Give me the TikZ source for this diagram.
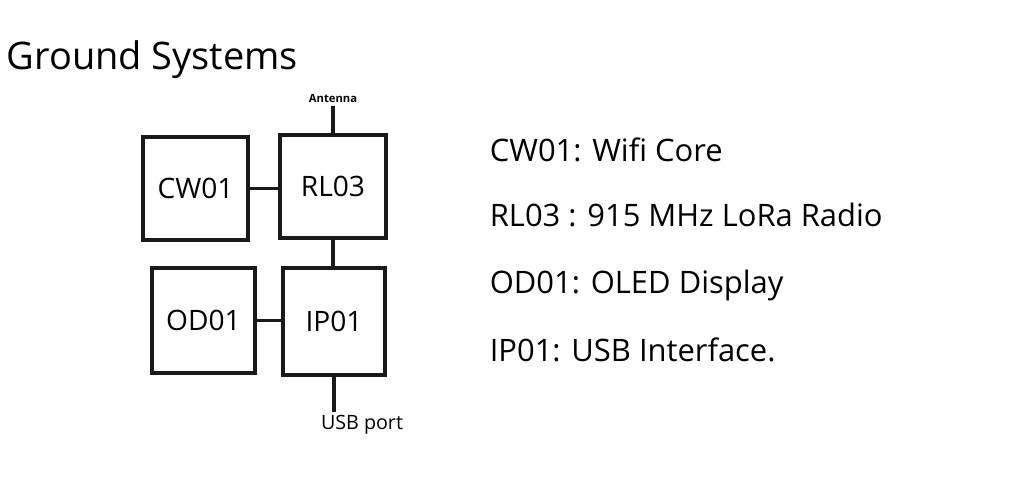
\documentclass[tikz,border=0pt]{standalone}
\usepackage{fontspec}
\setmainfont{Open Sans}
\usetikzlibrary{positioning}

\begin{document}
\begin{tikzpicture}[
            x=0.025cm,
            y=-0.025cm,
            line width=2.6pt,
            unit/.style={draw=black!90, line width=2.6pt, inner sep=0pt, font=\fontsize{20}{24}\selectfont},
            wire/.style={draw=black!90, line width=2.6pt},
            port/.style={inner sep=1pt},
            legend/.style={anchor=west, inner sep=0pt, font=\fontsize{22}{26}\selectfont},
        ]
        \useasboundingbox[fill=white] (0,0) rectangle (1032,483);
        % title
        \node[anchor=west, inner sep=0pt, font=\fontsize{27}{31}\selectfont] (title) at (5,60) {Ground Systems};
        % units
        \node[unit, minimum width=2.625cm, minimum height=2.575cm] (cw) at (195.5,188.5) {CW01};
        \node[unit, minimum width=2.65cm, minimum height=2.575cm] (rl) at (333,186.5) {RL03};
        \node[unit, minimum width=2.575cm, minimum height=2.625cm] (od) at (203.5,320.5) {OD01};
        \node[unit, minimum width=2.55cm, minimum height=2.675cm] (ip) at (334,321.5) {IP01};
        % external ports
        \node[port, font=\fontsize{8}{10}\selectfont\bfseries] (antenna) at (333,99) {Antenna};
        \node[port, font=\fontsize{14}{16}\selectfont] (usb) at (362,425) {USB port};
        % links
        \draw[wire] (cw.east) -- (cw.east -| rl.west);
        \draw[wire] (rl.south) -- (rl.south |- ip.north);
        \draw[wire] (od.east) -- (od.east -| ip.west);
        \draw[wire] (rl.north) -- (rl.north |- antenna.south);
        \draw[wire] (ip.south) -- (ip.south |- usb.north);
        % legend
        \foreach \n/\y/\txt in {cw/150/{CW01: Wifi Core}, rl/215/{RL03 : 915 MHz LoRa Radio},
                od/285/{OD01: OLED Display}, ip/350/{IP01: USB Interface.}} {
            \node[legend] (key-\n) at (488,\y) {\txt};
        }
        \end{tikzpicture}
\end{document}
